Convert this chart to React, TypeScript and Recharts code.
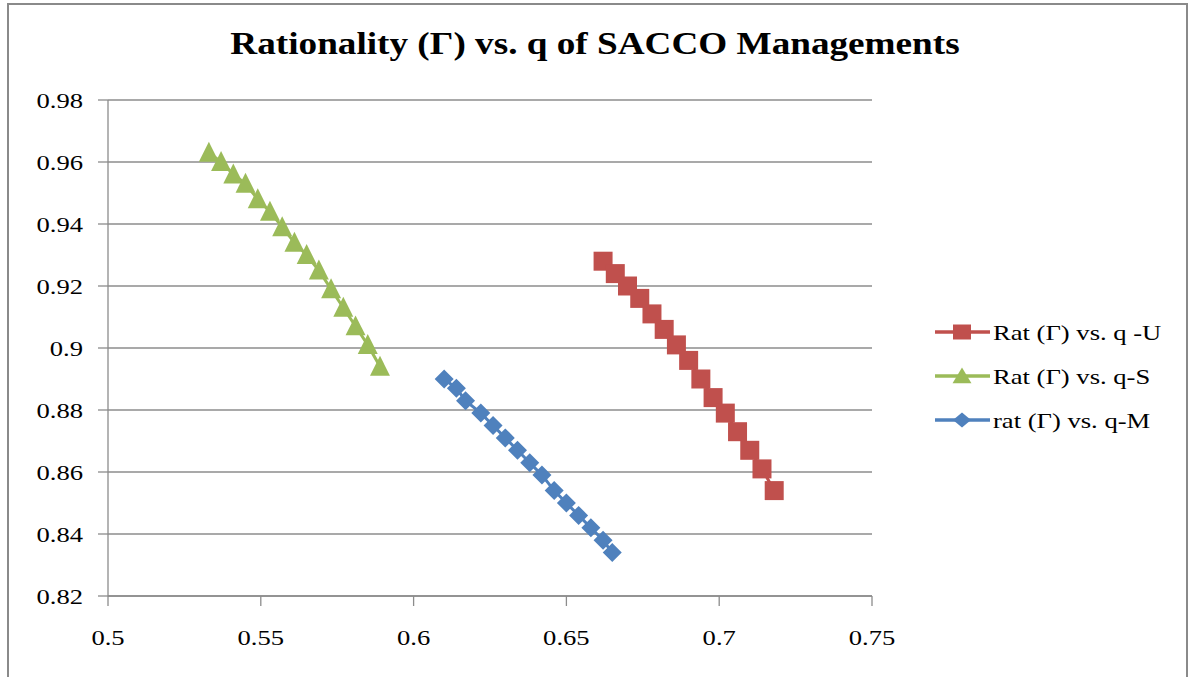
import { ScatterChart, Scatter, XAxis, YAxis, CartesianGrid } from "recharts";

// q values and rationality (Γ) per management type
const qU = [0.662, 0.666, 0.670, 0.674, 0.678, 0.682, 0.686, 0.690, 0.694, 0.698, 0.702, 0.706, 0.710, 0.714, 0.718];
const ratU = [0.928, 0.924, 0.920, 0.916, 0.911, 0.906, 0.901, 0.896, 0.890, 0.884, 0.879, 0.873, 0.867, 0.861, 0.854];

const qS = [0.533, 0.537, 0.541, 0.545, 0.549, 0.553, 0.557, 0.561, 0.565, 0.569, 0.573, 0.577, 0.581, 0.585, 0.589];
const ratS = [0.963, 0.960, 0.956, 0.953, 0.948, 0.944, 0.939, 0.934, 0.930, 0.925, 0.919, 0.913, 0.907, 0.901, 0.894];

const qM = [0.610, 0.614, 0.617, 0.622, 0.626, 0.630, 0.634, 0.638, 0.642, 0.646, 0.650, 0.654, 0.658, 0.662, 0.665];
const ratM = [0.890, 0.887, 0.883, 0.879, 0.875, 0.871, 0.867, 0.863, 0.859, 0.854, 0.850, 0.846, 0.842, 0.838, 0.834];

const xTicks = [0.5, 0.55, 0.6, 0.65, 0.7, 0.75];
const yTicks = [0.82, 0.84, 0.86, 0.88, 0.9, 0.92, 0.94, 0.96, 0.98];

const TITLE = "Rationality (Γ) vs. q of SACCO Managements";

const FONT = "'Liberation Serif', 'Times New Roman', serif";
const AXIS = "#8c8c8c";
// text in this chart is drawn slightly widened
const STRETCH = 1.21;

const toPoints = (xs: number[], ys: number[]) => xs.map((x, i) => ({ x, y: ys[i] }));

type Marker = "square" | "triangle" | "diamond";

function markerPath(kind: Marker, cx: number, cy: number, rx: number, ry: number) {
  if (kind === "square") {
    return `M${cx - rx},${cy - ry}H${cx + rx}V${cy + ry}H${cx - rx}Z`;
  }
  if (kind === "triangle") {
    return `M${cx},${cy - ry * 1.15}L${cx + rx * 1.05},${cy + ry * 0.95}L${cx - rx * 1.05},${cy + ry * 0.95}Z`;
  }
  return `M${cx},${cy - ry}L${cx + rx},${cy}L${cx},${cy + ry}L${cx - rx},${cy}Z`;
}

const series = [
  { name: "Rat (Γ) vs. q -U", color: "#C0504D", marker: "square" as Marker, data: toPoints(qU, ratU) },
  { name: "Rat (Γ) vs. q-S", color: "#9BBB59", marker: "triangle" as Marker, data: toPoints(qS, ratS) },
  { name: "rat (Γ) vs. q-M", color: "#4F81BD", marker: "diamond" as Marker, data: toPoints(qM, ratM) },
];

function XTick({ x, y, payload }: any) {
  return (
    <text
      transform={`translate(${x},${y}) scale(${STRETCH},1)`}
      textAnchor="middle"
      dy={25}
      fontFamily={FONT}
      fontSize={22}
      fill="#000"
    >
      {String(payload.value)}
    </text>
  );
}

function YTick({ x, y, payload }: any) {
  return (
    <text
      transform={`translate(${x},${y}) scale(${STRETCH},1)`}
      textAnchor="end"
      dy={7.5}
      fontFamily={FONT}
      fontSize={22}
      fill="#000"
    >
      {String(payload.value)}
    </text>
  );
}

function Overlay() {
  return (
    <svg
      width={1191}
      height={677}
      style={{ position: "absolute", left: 0, top: 0, pointerEvents: "none" }}
    >
      <text
        transform={`translate(595,54) scale(1.2,1)`}
        textAnchor="middle"
        fontFamily={FONT}
        fontSize={31}
        fontWeight="bold"
        fill="#000"
      >
        {TITLE}
      </text>
      {series.map((s, i) => {
        const y = 332 + i * 44;
        return (
          <g key={s.name}>
            <line x1={935} x2={990} y1={y} y2={y} stroke={s.color} strokeWidth={3.5} />
            <path d={markerPath(s.marker, 962, y, 9, 7.5)} fill={s.color} />
            <text
              transform={`translate(993,${y + 7.5}) scale(${STRETCH},1)`}
              fontFamily={FONT}
              fontSize={22}
              fill="#000"
            >
              {s.name}
            </text>
          </g>
        );
      })}
    </svg>
  );
}

export default function App() {
  return (
    <div
      style={{
        position: "absolute",
        left: 0,
        top: 0,
        width: 1191,
        height: 677,
        overflow: "hidden",
        background: "#fff",
        fontFamily: FONT,
      }}
    >
      <div
        style={{
          position: "absolute",
          left: 7,
          top: 3,
          width: 1177,
          height: 720,
          border: "2.5px solid #8a8a8a",
        }}
      />
      <div style={{ position: "absolute", left: 0, top: 0 }}>
        <ScatterChart
          width={1191}
          height={677}
          margin={{ top: 100, right: 319, bottom: 21, left: 8 }}
        >
          <CartesianGrid vertical={false} stroke={AXIS} strokeWidth={1.3} />
          <XAxis
            type="number"
            dataKey="x"
            domain={[0.5, 0.75]}
            ticks={xTicks}
            height={60}
            tickSize={10}
            tickMargin={14}
            axisLine={{ stroke: AXIS, strokeWidth: 1.3 }}
            tickLine={{ stroke: AXIS, strokeWidth: 1.3 }}
            tick={<XTick />}
            interval={0}
          />
          <YAxis
            type="number"
            dataKey="y"
            domain={[0.82, 0.98]}
            ticks={yTicks}
            width={100}
            tickSize={10}
            tickMargin={15}
            axisLine={{ stroke: AXIS, strokeWidth: 1.3 }}
            tickLine={{ stroke: AXIS, strokeWidth: 1.3 }}
            tick={<YTick />}
            interval={0}
          />
          {series.map((s) => (
            <Scatter
              key={s.name}
              name={s.name}
              data={s.data}
              fill={s.color}
              line={{ stroke: s.color, strokeWidth: 3 }}
              isAnimationActive={false}
              shape={(p: any) => (
                <path d={markerPath(s.marker, p.cx, p.cy, 9.5, 9.5)} fill={s.color} />
              )}
            />
          ))}
        </ScatterChart>
      </div>
      <Overlay />
    </div>
  );
}
